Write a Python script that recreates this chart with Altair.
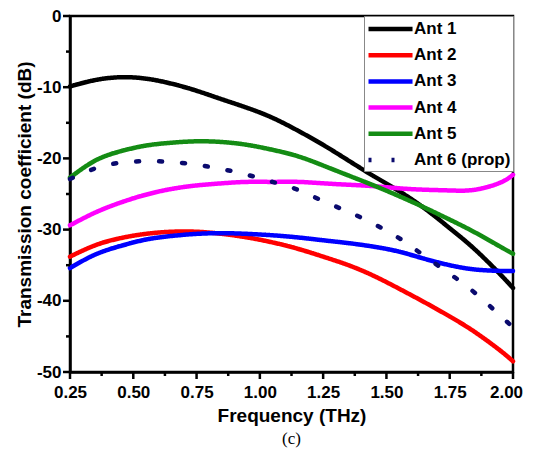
import altair as alt
import pandas as pd

freq = [0.25, 0.35, 0.45, 0.55, 0.65, 0.75, 0.85, 0.95, 1.05, 1.15, 1.25,
        1.35, 1.45, 1.55, 1.65, 1.75, 1.85, 1.95, 2.0]

ant1 = [-9.9, -9.0, -8.6, -8.8, -9.5, -10.5, -11.7, -12.9, -14.3, -16.1, -18.1,
        -20.3, -22.5, -24.6, -27.0, -29.8, -32.8, -36.3, -38.2]
ant2 = [-33.8, -32.2, -31.2, -30.6, -30.3, -30.3, -30.6, -31.1, -31.8, -32.7, -33.8,
        -35.0, -36.5, -38.3, -40.2, -42.2, -44.4, -47.0, -48.5]
ant3 = [-35.4, -33.5, -32.3, -31.4, -30.9, -30.6, -30.5, -30.6, -30.8, -31.1, -31.5,
        -31.9, -32.4, -33.1, -34.1, -35.0, -35.6, -35.8, -35.8]
ant4 = [-29.4, -27.6, -26.2, -25.1, -24.3, -23.8, -23.5, -23.3, -23.3, -23.3, -23.5,
        -23.7, -23.9, -24.2, -24.4, -24.5, -24.4, -23.4, -22.3]
ant5 = [-22.7, -20.3, -19.0, -18.2, -17.8, -17.6, -17.7, -18.1, -18.8, -19.7, -21.0,
        -22.4, -23.8, -25.3, -26.9, -28.6, -30.4, -32.4, -33.4]
ant6 = [-22.9, -21.4, -20.6, -20.4, -20.5, -20.9, -21.5, -22.3, -23.3, -24.4, -26.0,
        -27.5, -29.2, -31.2, -33.7, -36.2, -38.9, -42.1, -43.7]

names = ["Ant 1", "Ant 2", "Ant 3", "Ant 4", "Ant 5", "Ant 6 (prop)"]
colors = ["#000000", "#ff0000", "#0000ff", "#ff00ff", "#148c14", "#0a0a6e"]
dashes = [[1, 0], [1, 0], [1, 0], [1, 0], [1, 0], [3, 20]]

x_ticks = [0.25, 0.5, 0.75, 1.0, 1.25, 1.5, 1.75, 2.0]
x_minor = [0.375, 0.625, 0.875, 1.125, 1.375, 1.625, 1.875]
y_ticks = [-50, -40, -30, -20, -10, 0]
y_minor = [-45, -35, -25, -15, -5]

rows = []
for name, vals in zip(names, [ant1, ant2, ant3, ant4, ant5, ant6]):
    for f, v in zip(freq, vals):
        rows.append({"f": f, "v": v, "s": name})
df = pd.DataFrame(rows)

W, H = 443, 356
FONT = "Liberation Sans"

xs = alt.Scale(domain=[0.25, 2.0], nice=False, zero=False)
ys = alt.Scale(domain=[-50, 0], nice=False, zero=False)

lines = alt.Chart(df).mark_line(strokeWidth=4.5, interpolate="natural", strokeCap="round").encode(
    x=alt.X("f:Q", scale=xs, title="Frequency (THz)",
            axis=alt.Axis(values=x_ticks, format=".2f", grid=False, ticks=True, tickSize=7,
                          tickOpacity=0, domainWidth=2.5, domainColor="black", labelFlush=False,
                          labelOffset=alt.condition("datum.value >= 2", alt.value(-7), alt.value(0)),
                          labelFont=FONT, labelFontSize=17, labelFontWeight="bold", labelColor="black",
                          labelPadding=5, titleFont=FONT, titleFontSize=19, titleFontWeight="bold",
                          titleColor="black", titlePadding=6)),
    y=alt.Y("v:Q", scale=ys, title="Transmission coefficient (dB)",
            axis=alt.Axis(values=y_ticks, labelExpr="toString(datum.value)", grid=False, ticks=True,
                          tickSize=7, tickOpacity=0, domainWidth=2.5, domainColor="black",
                          labelFlush=False,
                          labelFont=FONT, labelFontSize=17, labelFontWeight="bold", labelColor="black",
                          labelPadding=2, titleFont=FONT, titleFontSize=19, titleFontWeight="bold",
                          titleColor="black", titlePadding=2)),
    color=alt.Color("s:N", scale=alt.Scale(domain=names, range=colors),
                    legend=alt.Legend(title=None, orient="top-right", offset=0,
                                      symbolType="M-1,0H4.18", symbolSize=289,
                                      symbolStrokeWidth=4.5, labelOffset=26,
                                      labelFont=FONT, labelFontSize=17, labelFontWeight="bold",
                                      labelColor="black", rowPadding=6.2, padding=2,
                                      strokeColor="#888888", fillColor="white", labelLimit=200)),
    strokeDash=alt.StrokeDash("s:N", scale=alt.Scale(domain=names, range=dashes), legend=None),
)

def yt(vals, size):
    return alt.Chart(pd.DataFrame({"m": vals})).mark_tick(
        color="black", thickness=2.5, size=size, orient="horizontal", clip=False, opacity=1
    ).encode(y=alt.Y("m:Q", scale=ys), x=alt.value(-size / 2))

def xt(vals, size):
    return alt.Chart(pd.DataFrame({"m": vals})).mark_tick(
        color="black", thickness=2.5, size=size, orient="vertical", clip=False, opacity=1
    ).encode(x=alt.X("m:Q", scale=xs), y=alt.value(H + size / 2))

chart = alt.layer(lines, yt(y_ticks, 7), yt(y_minor, 4), xt(x_ticks, 7), xt(x_minor, 4)).properties(
    width=W, height=H,
    autosize=alt.AutoSizeParams(type="none"),
    padding={"left": 62, "top": 8, "right": 12, "bottom": 76},
    title=alt.TitleParams("(c)", orient="bottom", font="Liberation Serif", fontSize=17,
                          fontWeight="normal", color="black", offset=6),
).configure_view(stroke="black", strokeWidth=2.5)

chart.save("out.html", embed_options={"renderer": "svg", "actions": False})
